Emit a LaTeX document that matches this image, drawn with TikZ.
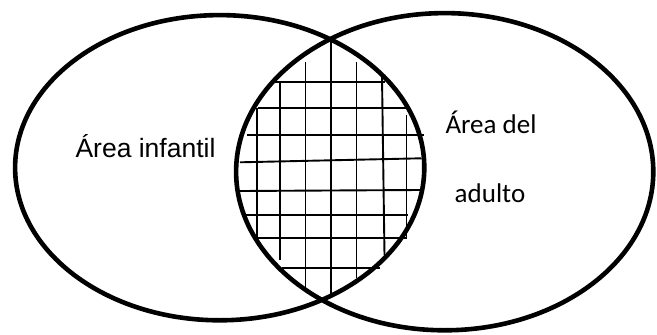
\documentclass[tikz,border=0pt]{standalone}
\usepackage{fontspec}
\setmainfont{Liberation Sans}
\newfontfamily\calfont{Carlito}
\usepackage{tikz}

\begin{document}
\begin{tikzpicture}[
    x=1pt, y=-1pt,
    set/.style={draw=black, line width=4.6pt},
    hatch/.style={draw=black, line width=1.9pt},
    lefttext/.style={anchor=base, inner sep=0pt, font=\fontsize{26.5}{30}\selectfont},
    righttext/.style={anchor=base, inner sep=0pt, font=\calfont\fontsize{27}{32}\selectfont}
]
\useasboundingbox (0,0) rectangle (657,335);

% Hatching of the common area (vertical strokes)
\foreach \xa/\ya/\xb/\yb in {257/108/257/240, 280/83/280/260, 305.5/62/305.5/287,
    331/40/331/297, 356.5/62/356.5/278, 382/77/384.5/255, 406.5/115/406.5/238}
  \draw[hatch] (\xa,\ya) -- (\xb,\yb);

% Hatching of the common area (horizontal strokes)
\foreach \xa/\ya/\xb/\yb in {270/82.3/385/82.3, 258/108.3/406.5/108.3, 246.5/135/424/135,
    240/162.3/421.5/158.3, 240/191/420/190, 245/215/408/215, 253/238.3/406.5/238.3,
    281.5/268.3/380/268.3}
  \draw[hatch] (\xa,\ya) -- (\xb,\yb);

% The two sets
\draw[set] (219.7,167.7) ellipse [x radius=204.6, y radius=152.6];
\draw[set] (444.7,171.7) ellipse [x radius=208.6, y radius=158.6];

% Labels
\node[lefttext] (infantil) at (145.5,157) {Área infantil};
\node[righttext] (adultoA) at (491,133) {Área del};
\node[righttext] (adultoB) at (490,202) {adulto};

\end{tikzpicture}
\end{document}
